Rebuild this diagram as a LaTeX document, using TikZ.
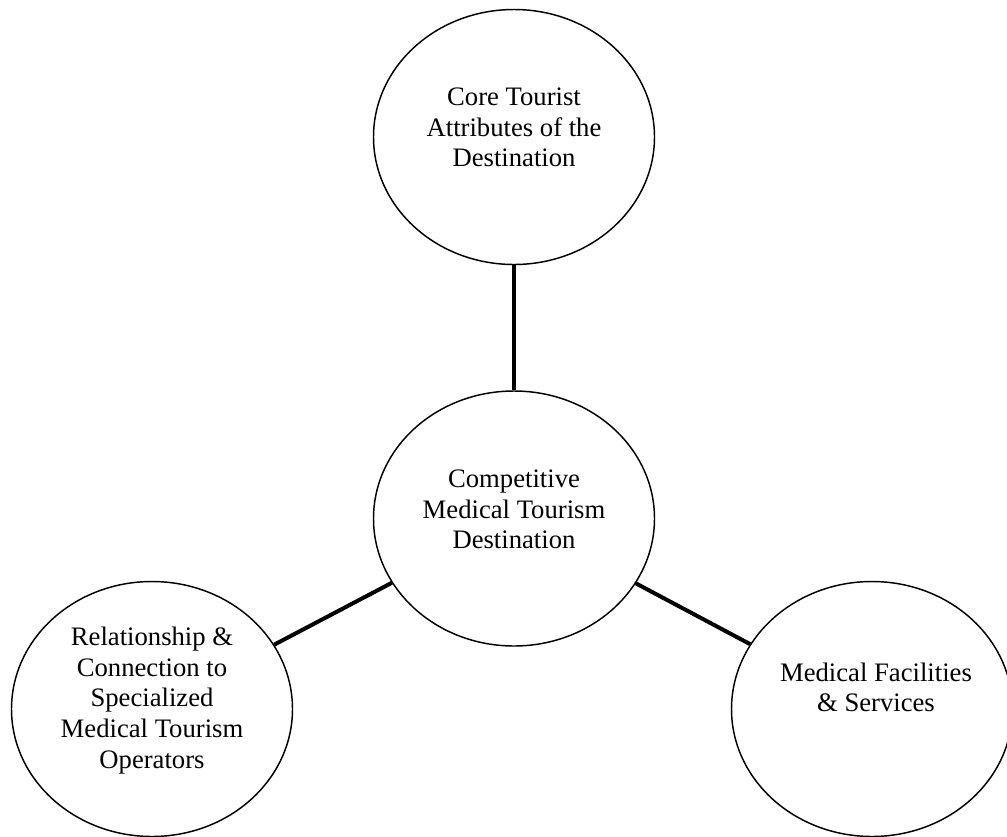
\documentclass[tikz,border=0pt]{standalone}
\usepackage{fontspec}
\setmainfont{Liberation Serif}
\usetikzlibrary{shapes.geometric}
\begin{document}
\begin{tikzpicture}[x=0.75pt,y=-0.75pt]
    \tikzstyle{blob}=[draw=black,line width=1.1pt,ellipse,minimum width=210.75pt,minimum height=191.25pt,inner sep=0pt]
    \tikzstyle{links}=[line width=3pt]
    \tikzstyle{txt}=[align=center,font=\fontsize{20}{23}\selectfont]
    \useasboundingbox (0,0) rectangle (1007,836);
    % the four circles
    \node[blob] (core) at (514,137) {};
    \node[blob] (dest) at (514,518.5) {};
    \node[blob] (oper) at (152,709) {};
    \node[blob] (facil) at (872,709) {};
    % labels
    \node[txt] (coretext) at (514,127.5) {Core Tourist\\Attributes of the\\Destination};
    \node[txt] (desttext) at (514,509.5) {Competitive\\Medical Tourism\\Destination};
    \node[txt] (opertext) at (152,700.5) {Relationship \&\\Connection to\\Specialized\\Medical Tourism\\Operators};
    \node[txt] (faciltext) at (876,687.5) {Medical Facilities\\\& Services};
    % links
    \draw[links] (core) -- (dest);
    \draw[links] (dest) -- (oper);
    \draw[links] (dest) -- (facil);
\end{tikzpicture}
\end{document}
